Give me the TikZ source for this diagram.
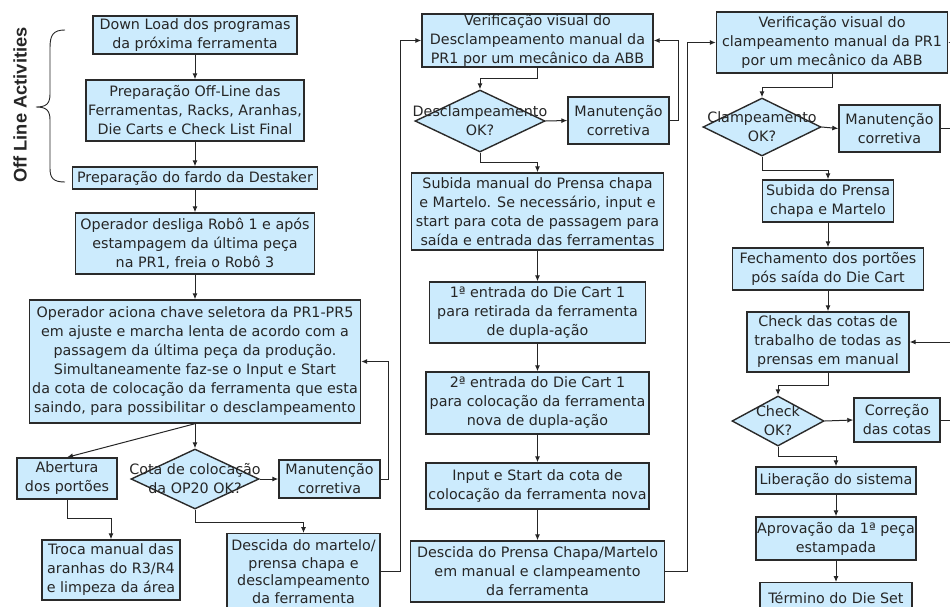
\documentclass[tikz,border=0pt]{standalone}
\usepackage{fontspec}
\setmainfont{DejaVu Sans}
\newfontfamily\bracefont{Liberation Sans}
\usetikzlibrary{arrows.meta,shapes.geometric}
\definecolor{boxfill}{HTML}{CCEBFD}
\definecolor{boxline}{HTML}{2A2A2A}
\definecolor{ink}{HTML}{262626}
\begin{document}
\begin{tikzpicture}[x=1pt,y=-1pt,
  font=\fontsize{14.3}{19}\selectfont,
  stepbox/.style={draw=boxline, line width=1.4pt, fill=boxfill, text=ink, align=center, inner sep=0pt},
  decision/.style={diamond, draw=boxline, line width=1.4pt, fill=boxfill, inner sep=0pt},
  dectext/.style={text=ink, align=center, inner sep=0pt},
  arr/.style={draw=ink, line width=1pt, -{Latex[length=6pt,width=5pt]}},
  link/.style={draw=ink, line width=1pt}]
\useasboundingbox (0,0) rectangle (950,606);
\clip (0,0) rectangle (950,606);

% ---------- left column ----------
\node[stepbox, minimum width=204pt, minimum height=38pt] (b1) at (195,35)
  {Down Load dos programas\\da próxima ferramenta};
\node[stepbox, minimum width=218pt, minimum height=61pt] (b2) at (195,110.5)
  {Preparação Off-Line das\\Ferramentas, Racks, Aranhas,\\Die Carts e Check List Final};
\node[stepbox, minimum width=245pt, minimum height=22pt] (b3) at (195,178)
  {Preparação do fardo da Destaker};
\node[stepbox, minimum width=239pt, minimum height=61pt] (b4) at (195,243.5)
  {Operador desliga Robô 1 e após\\estampagem da última peça\\na PR1, freia o Robô 3};
\node[stepbox, minimum width=331pt, minimum height=123pt] (b5) at (195,361.5)
  {Operador aciona chave seletora da PR1-PR5\\em ajuste e marcha lenta de acordo com a\\passagem da última peça da produção.\\Simultaneamente faz-se o Input e Start\\da cota de colocação da ferramenta que esta\\saindo, para possibilitar o desclampeamento};
\node[stepbox, minimum width=100pt, minimum height=41pt] (b6) at (67,478.5)
  {Abertura\\dos portões};
\node[decision, minimum width=128pt, minimum height=60pt] (d1) at (195,479) {};
\node[dectext] (d1t) at (d1.center) {Cota de colocação\\da OP20 OK?};
\node[stepbox, minimum width=101pt, minimum height=38pt] (m1) at (329.5,479)
  {Manutenção\\corretiva};
\node[stepbox, minimum width=138pt, minimum height=60pt] (b7) at (111,570)
  {Troca manual das\\aranhas do R3/R4\\e limpeza da área};
\node[stepbox, minimum width=153pt, minimum height=76pt, anchor=north,
      font=\fontsize{14.3}{17.5}\selectfont] (b8) at (303.5,533)
  {Descida do martelo/\\prensa chapa e\\desclampeamento\\da ferramenta};

% ---------- middle column ----------
\node[stepbox, minimum width=231pt, minimum height=53pt] (c1) at (537.5,40.5)
  {Verificação visual do\\Desclampeamento manual da\\PR1 por um mecânico da ABB};
\node[decision, minimum width=130pt, minimum height=62pt] (d2) at (480,121) {};
\node[dectext] (d2t) at (d2.center) {Desclampeamento\\OK?};
\node[stepbox, minimum width=101pt, minimum height=47pt] (m2) at (618.5,120.5)
  {Manutenção\\corretiva};
\node[stepbox, minimum width=252pt, minimum height=77pt] (c2) at (537.5,211.5)
  {Subida manual do Prensa chapa\\e Martelo. Se necessário, input e\\start para cota de passagem para\\saída e entrada das ferramentas};
\node[stepbox, minimum width=216pt, minimum height=61pt] (c3) at (537.5,312.5)
  {1ª entrada do Die Cart 1\\para retirada da ferramenta\\de dupla-ação};
\node[stepbox, minimum width=223pt, minimum height=62pt] (c4) at (537.5,403)
  {2ª entrada do Die Cart 1\\para colocação da ferramenta\\nova de dupla-ação};
\node[stepbox, minimum width=223pt, minimum height=46pt] (c5) at (537.5,486)
  {Input e Start da cota de\\colocação da ferramenta nova};
\node[stepbox, minimum width=254pt, minimum height=61pt] (c6) at (537.5,571.5)
  {Descida do Prensa Chapa/Martelo\\em manual e clampeamento\\da ferramenta};

% ---------- right column ----------
\node[stepbox, minimum width=231pt, minimum height=61pt] (r1) at (832,42.5)
  {Verificação visual do\\clampeamento manual da PR1\\por um mecânico da ABB};
\node[decision, minimum width=118pt, minimum height=58pt] (d3) at (762,127) {};
\node[dectext] (d3t) at (d3.center) {Clampeamento\\OK?};
\node[stepbox, minimum width=101pt, minimum height=47pt] (m3) at (889.5,128.5)
  {Manutenção\\corretiva};
\node[stepbox, minimum width=131pt, minimum height=42pt] (r2) at (828,201)
  {Subida do Prensa\\chapa e Martelo};
\node[stepbox, minimum width=191pt, minimum height=42pt] (r3) at (828,269)
  {Fechamento dos portões\\pós saída do Die Cart};
\node[stepbox, minimum width=162pt, minimum height=60pt] (r4) at (828,342)
  {Check das cotas de\\trabalho de todas as\\prensas em manual};
\node[decision, minimum width=92pt, minimum height=50pt] (d4) at (778,421) {};
\node[dectext] (d4t) at (d4.center) {Check\\OK?};
\node[stepbox, minimum width=86pt, minimum height=44pt] (m4) at (897,420)
  {Correção\\das cotas};
\node[stepbox, minimum width=160pt, minimum height=27pt] (r5) at (836,480.5)
  {Liberação do sistema};
\node[stepbox, minimum width=160pt, minimum height=43pt] (r6) at (836,538.5)
  {Aprovação da 1ª peça\\estampada};
\node[stepbox, minimum width=152pt, minimum height=30pt, anchor=north] (r7) at (836,582)
  {Término do Die Set};

% ---------- off-line bracket ----------
\draw[draw=ink, line width=0.9pt]
  (65,30) .. controls (53,30) and (50,35) .. (50,48) -- (50,94)
  .. controls (50,104) and (46,107) .. (36,107)
  .. controls (46,107) and (50,110) .. (50,120) -- (50,168)
  .. controls (50,178) and (53,182) .. (65,182);
\node[rotate=90, text=ink, inner sep=0pt, font=\bracefont\bfseries\fontsize{18.3}{21}\selectfont]
  (offline) at (20,105) {Off Line Activities};

% ---------- connectors: left column ----------
\draw[arr] (b1.south) -- (b2.north);
\draw[arr] (b2.south) -- (b3.north);
\draw[arr] (b3.south) -- (b4.north);
\draw[arr] (b4.south) -- (b5.north);
\draw[arr] (b5.south) -- (d1.north);
\draw[arr] (b5.south) -- (b6.north);
\draw[arr] (d1.east) -- (m1.west);
\draw[arr] (m1.east) -- ++(8,0) |- (b5.east);
\draw[arr] (b6.south) -- ++(0,19) -| (b7.north);
\draw[arr] (d1.south) -- ++(0,13) -| (b8.north);
\draw[arr] (b8.east) -- ++(20,0) |- (c1.west);

% ---------- connectors: middle column ----------
\draw[arr] (c1.south) -- ++(0,11) -| (d2.north);
\draw[arr] (d2.east) -- (m2.west);
\draw[arr] (m2.east) -- ++(9,0) |- (c1.east);
\draw[arr] (d2.south) -- ++(0,10) -| (c2.north);
\draw[arr] (c2.south) -- (c3.north);
\draw[arr] (c3.south) -- (c4.north);
\draw[arr] (c4.south) -- (c5.north);
\draw[arr] (c5.south) -- (c6.north);
\draw[arr] (c6.east) -- ++(22,0) |- (r1.west);

% ---------- connectors: right column ----------
\draw[arr] (r1.south) -- ++(0,14) -| (d3.north);
\draw[arr] (d3.east) -- (m3.west);
\draw[arr] (m3.east) -- ++(14,0) |- (r1.east);
\draw[arr] (d3.south) -- ++(0,14) -| (r2.north);
\draw[arr] (r2.south) -- (r3.north);
\draw[arr] (r3.south) -- (r4.north);
\draw[arr] (r4.south) -- ++(0,13) -| (d4.north);
\draw[arr] (d4.east) -- (m4.west);
\draw[arr] (m4.east) -- ++(14,0) |- (r4.east);
\draw[arr] (d4.south) -- ++(0,10) -| (r5.north);
\draw[arr] (r5.south) -- (r6.north);
\draw[arr] (r6.south) -- (r7.north);
\end{tikzpicture}
\end{document}
